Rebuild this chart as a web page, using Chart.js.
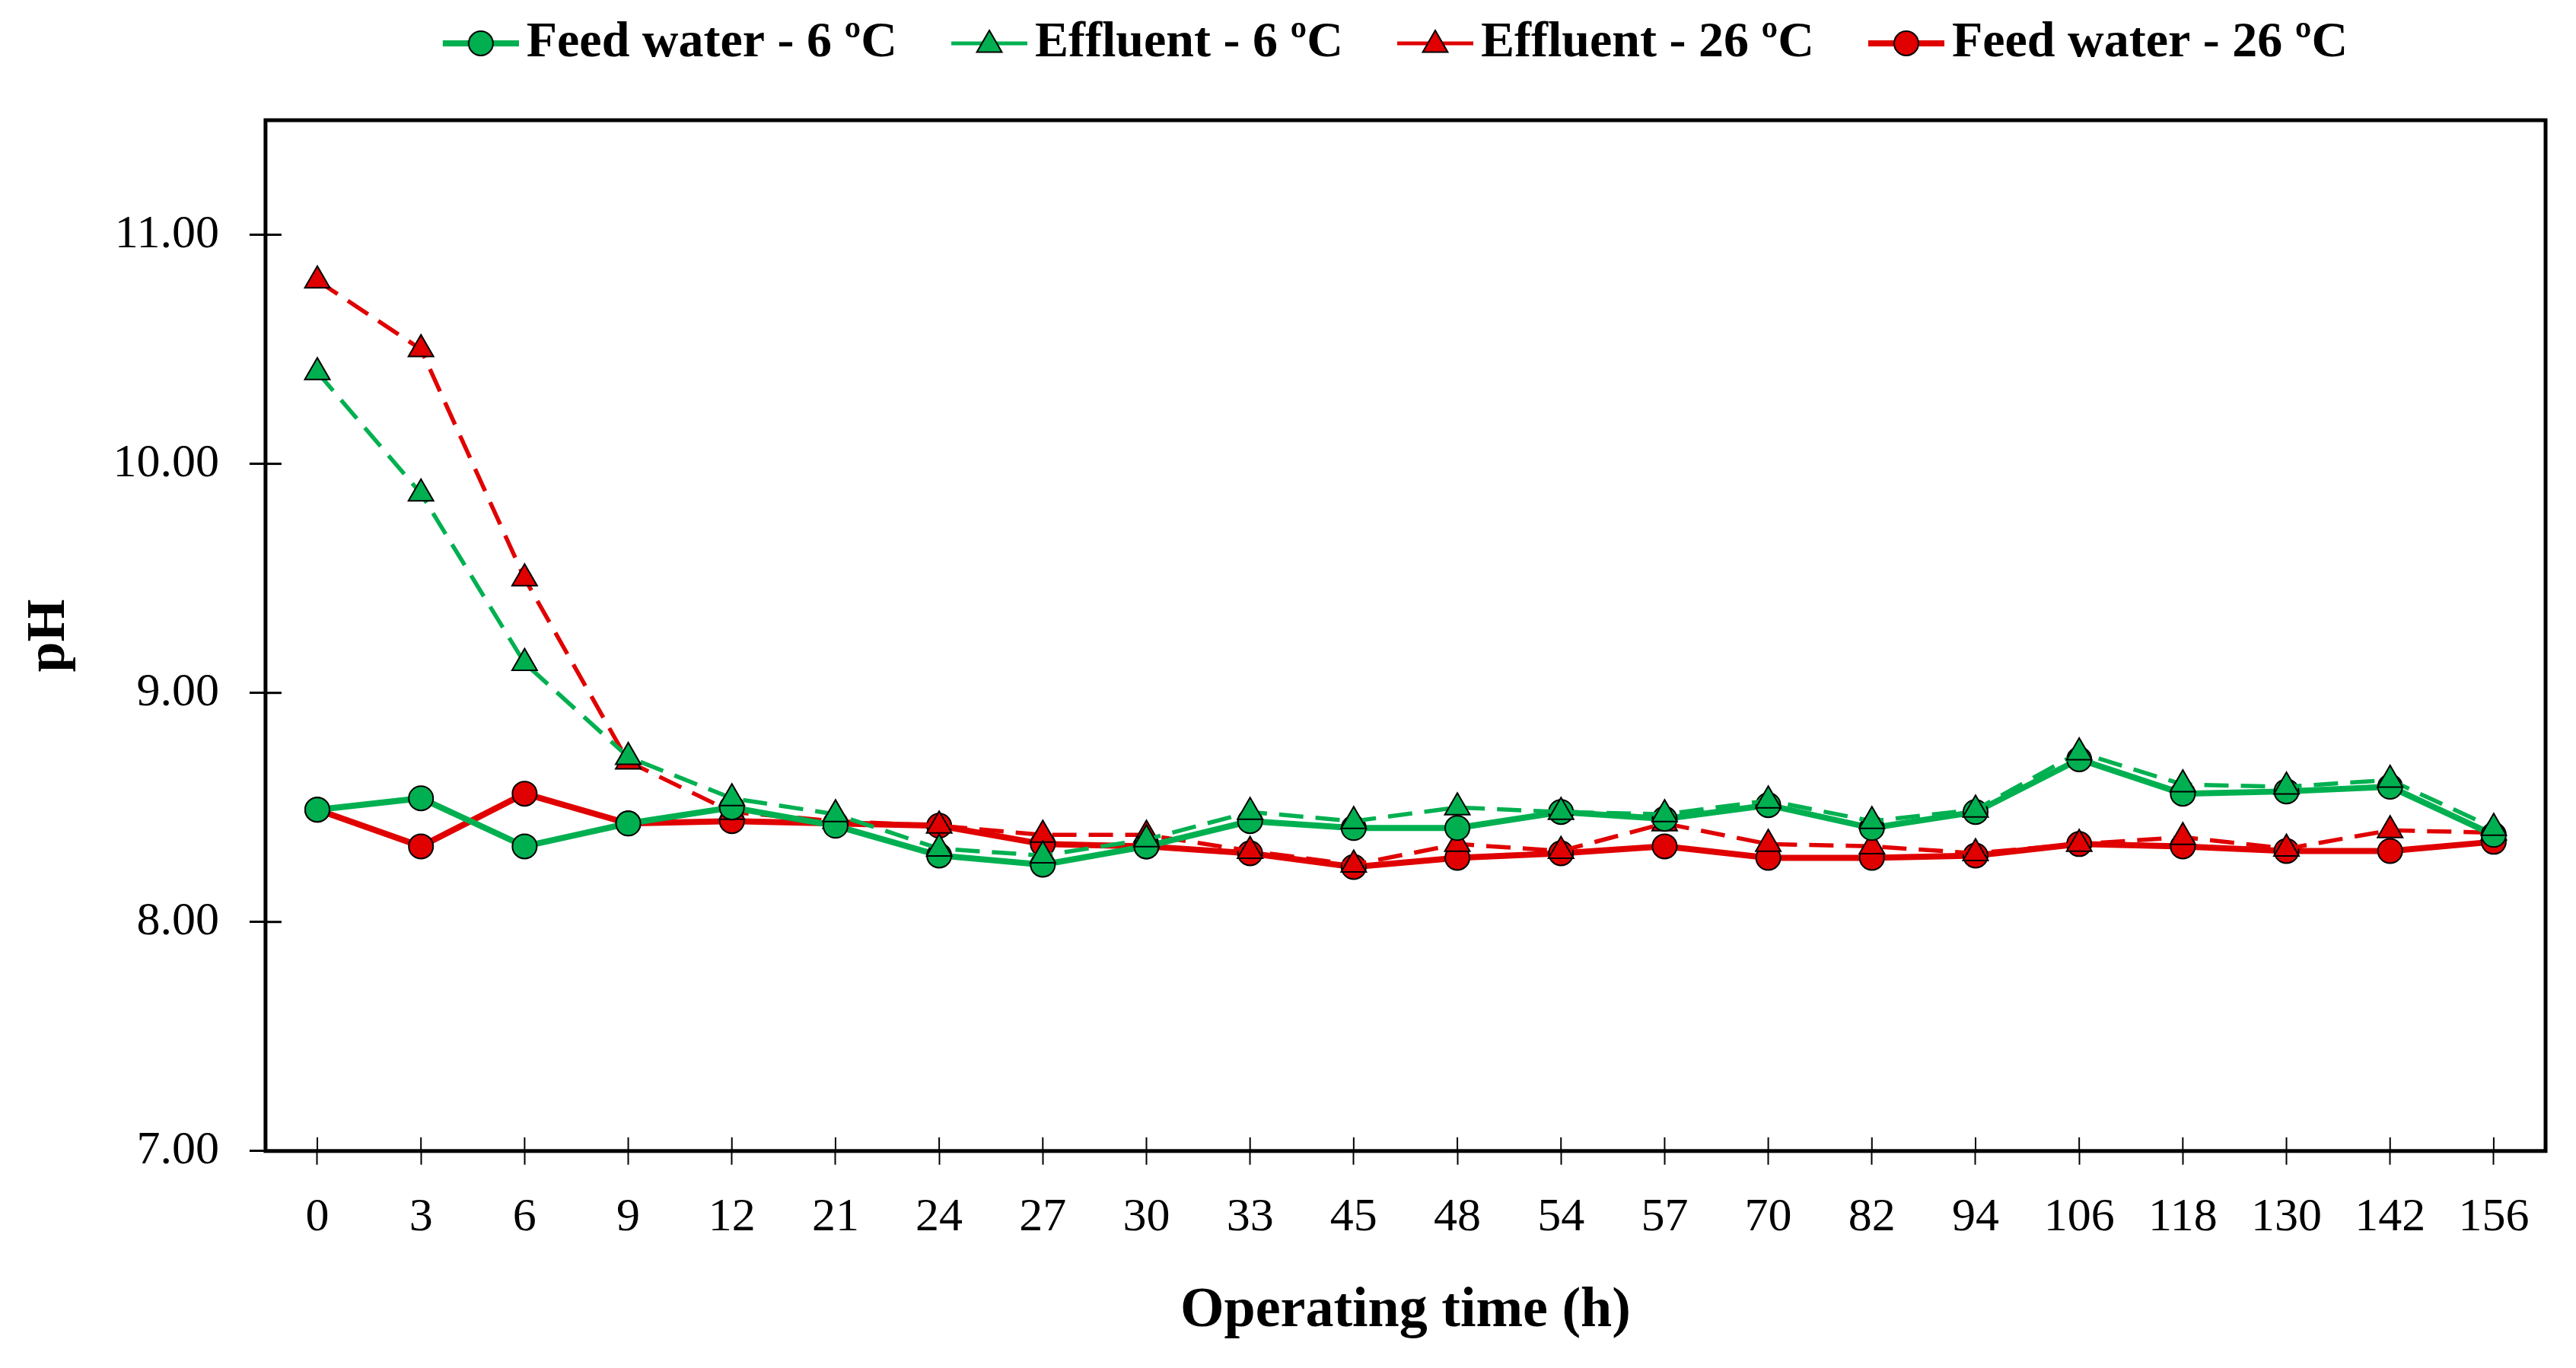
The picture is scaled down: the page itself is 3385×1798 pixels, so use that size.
<!DOCTYPE html>
<html>
<head>
<meta charset="utf-8">
<script src="https://cdn.jsdelivr.net/npm/chart.js@4.4.1/dist/chart.umd.min.js"></script>
<style>
  html, body { margin: 0; padding: 0; background: #fff; }
  #wrap { width: 3385px; height: 1798px; }
</style>
</head>
<body>
<div id="wrap"><canvas id="phChart"></canvas></div>
<script>
// operating time (h) categories
const hours = ['0', '3', '6', '9', '12', '21', '24', '27', '30', '33', '45', '48', '54', '57', '70', '82', '94', '106', '118', '130', '142', '156'];

// pH readings per series
const feedWater6 = [8.49, 8.54, 8.33, 8.43, 8.50, 8.42, 8.29, 8.25, 8.33, 8.44, 8.41, 8.41, 8.48, 8.45, 8.51, 8.41, 8.48, 8.71, 8.56, 8.57, 8.59, 8.38];
const effluent6 = [10.40, 9.87, 9.13, 8.72, 8.54, 8.47, 8.32, 8.29, 8.36, 8.48, 8.44, 8.50, 8.48, 8.47, 8.53, 8.44, 8.49, 8.74, 8.60, 8.59, 8.62, 8.41];
const effluent26 = [10.80, 10.50, 9.50, 8.70, 8.48, 8.44, 8.42, 8.38, 8.38, 8.31, 8.25, 8.34, 8.31, 8.43, 8.34, 8.33, 8.30, 8.34, 8.37, 8.32, 8.40, 8.39];
const feedWater26 = [8.49, 8.33, 8.56, 8.43, 8.44, 8.43, 8.42, 8.34, 8.33, 8.30, 8.24, 8.28, 8.30, 8.33, 8.28, 8.28, 8.29, 8.34, 8.33, 8.31, 8.31, 8.35];

const yTicks = [7, 8, 9, 10, 11];

const GREEN = '#00B050';
const RED = '#E00000';
const FONT = "'Liberation Serif', 'DejaVu Serif', serif";

// legend icon: a short line with the marker in the middle
function legendIcon(color, shape, lineWidth) {
  const c = document.createElement('canvas');
  c.width = 184;
  c.height = 44;
  const g = c.getContext('2d');
  g.strokeStyle = color;
  g.lineWidth = lineWidth;
  g.beginPath();
  g.moveTo(84, 22);
  g.lineTo(184, 22);
  g.stroke();
  g.fillStyle = color;
  g.strokeStyle = '#000';
  g.lineWidth = 2;
  g.beginPath();
  if (shape === 'circle') {
    g.arc(134, 22, 16, 0, Math.PI * 2);
  } else {
    const r = 19;
    g.moveTo(134, 24 - r);
    g.lineTo(134 + r * Math.sin(Math.PI * 2 / 3), 24 + r / 2);
    g.lineTo(134 - r * Math.sin(Math.PI * 2 / 3), 24 + r / 2);
    g.closePath();
  }
  g.fill();
  g.stroke();
  return c;
}

const icons = [
  legendIcon(GREEN, 'circle', 8),
  legendIcon(GREEN, 'triangle', 5),
  legendIcon(RED, 'triangle', 5),
  legendIcon(RED, 'circle', 8)
];

// extra space below the legend, and nudge it a little to the left
const legendGap = {
  id: 'legendGap',
  beforeInit(chart) {
    const fit = chart.legend.fit;
    chart.legend.fit = function () {
      fit.call(this);
      this.height += 58;
    };
  },
  afterLayout(chart) {
    chart.legend.left -= 44;
    chart.legend.right -= 44;
  }
};

// inner halves of the tick marks and the box round the plot
const frame = {
  id: 'frame',
  beforeDatasetsDraw(chart) {
    const { ctx, chartArea: a, scales } = chart;
    ctx.save();
    ctx.strokeStyle = '#000';
    ctx.lineWidth = 2;
    scales.x.ticks.forEach((t, i) => {
      const x = scales.x.getPixelForTick(i);
      ctx.beginPath();
      ctx.moveTo(x, a.bottom);
      ctx.lineTo(x, a.bottom - 18);
      ctx.stroke();
    });
    ctx.lineWidth = 3;
    scales.y.ticks.forEach((t, i) => {
      const y = scales.y.getPixelForTick(i);
      ctx.beginPath();
      ctx.moveTo(a.left, y);
      ctx.lineTo(a.left + 21, y);
      ctx.stroke();
    });
    ctx.restore();
  },
  afterDraw(chart) {
    const { ctx, chartArea: a } = chart;
    ctx.save();
    ctx.strokeStyle = '#000';
    ctx.lineWidth = 5;
    ctx.strokeRect(a.left, a.top, a.right - a.left, a.bottom - a.top);
    ctx.restore();
  }
};

const ctx = document.getElementById('phChart');

new Chart(ctx, {
  type: 'line',
  data: {
    labels: hours,
    datasets: [
      {
        label: 'Feed water - 6 ºC',
        data: feedWater6,
        order: 1,
        borderColor: GREEN,
        borderWidth: 8,
        pointStyle: 'circle',
        pointRadius: 16,
        pointBackgroundColor: GREEN,
        pointBorderColor: '#000',
        pointBorderWidth: 2
      },
      {
        label: 'Effluent - 6 ºC',
        data: effluent6,
        order: 0,
        borderColor: GREEN,
        borderWidth: 5.5,
        borderDash: [32, 16],
        pointStyle: 'triangle',
        pointRadius: 19,
        pointBackgroundColor: GREEN,
        pointBorderColor: '#000',
        pointBorderWidth: 2
      },
      {
        label: 'Effluent - 26 ºC',
        data: effluent26,
        order: 2,
        borderColor: RED,
        borderWidth: 5.5,
        borderDash: [32, 16],
        pointStyle: 'triangle',
        pointRadius: 19,
        pointBackgroundColor: RED,
        pointBorderColor: '#000',
        pointBorderWidth: 2
      },
      {
        label: 'Feed water - 26 ºC',
        data: feedWater26,
        order: 3,
        borderColor: RED,
        borderWidth: 8,
        pointStyle: 'circle',
        pointRadius: 16,
        pointBackgroundColor: RED,
        pointBorderColor: '#000',
        pointBorderWidth: 2
      }
    ]
  },
  options: {
    responsive: true,
    maintainAspectRatio: false,
    animation: false,
    devicePixelRatio: 1,
    layout: {
      padding: { top: 14, left: 0, right: 40, bottom: 0 }
    },
    elements: {
      line: { tension: 0 }
    },
    plugins: {
      tooltip: { enabled: false },
      legend: {
        position: 'top',
        fullSize: false,
        labels: {
          usePointStyle: true,
          pointStyleWidth: 138,
          padding: 10,
          color: '#000',
          font: { family: FONT, size: 66, weight: 'bold' },
          generateLabels: (chart) => chart.data.datasets.map((ds, i) => ({
            text: ds.label,
            pointStyle: icons[i],
            fillStyle: 'transparent',
            strokeStyle: 'transparent',
            lineWidth: 0,
            hidden: false,
            datasetIndex: i
          }))
        }
      }
    },
    scales: {
      x: {
        offset: true,
        border: { display: false },
        grid: { drawOnChartArea: false, offset: false, tickLength: 18, tickWidth: 2, tickColor: '#000' },
        ticks: {
          autoSkip: false,
          maxRotation: 0,
          padding: 33,
          color: '#000',
          font: { family: FONT, size: 62 }
        },
        title: {
          display: true,
          text: 'Operating time (h)',
          color: '#000',
          font: { family: FONT, size: 74, weight: 'bold' },
          padding: { top: 8, bottom: 30 }
        }
      },
      y: {
        min: 7,
        max: 11.5,
        afterBuildTicks: (scale) => {
          scale.ticks = yTicks.map((v) => ({ value: v }));
        },
        border: { display: false },
        grid: { drawOnChartArea: false, tickLength: 21, tickWidth: 3, tickColor: '#000' },
        ticks: {
          padding: 40,
          color: '#000',
          font: { family: FONT, size: 62 },
          callback: (v) => Number(v).toFixed(2)
        },
        title: {
          display: true,
          text: 'pH',
          color: '#000',
          font: { family: FONT, size: 72, weight: 'bold' },
          padding: { top: 22, bottom: 0 }
        }
      }
    }
  },
  plugins: [legendGap, frame]
});
</script>
</body>
</html>
